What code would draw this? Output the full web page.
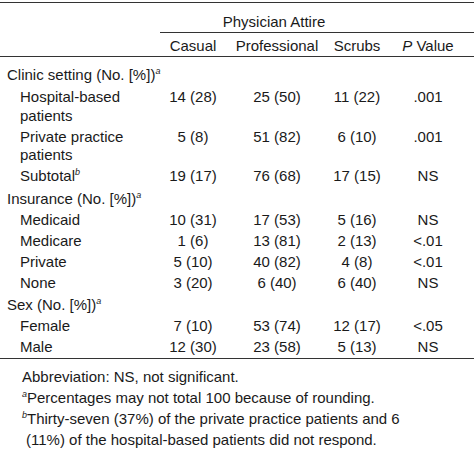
<!DOCTYPE html>
<html><head><meta charset="utf-8">
<script src="https://cdn.jsdelivr.net/npm/chart.js@4"></script>
<style>
body{margin:0;background:#fff;font-family:"Liberation Sans",Arial,sans-serif;color:#1a1a1a;font-size:15px;}
#t{position:relative;width:474px;height:467px;}
.c{position:absolute;white-space:nowrap;line-height:18px;}
.r{position:absolute;left:0;height:1px;background:#333;}
sup{font-size:9px;font-style:italic;vertical-align:6px;line-height:0}
</style></head><body><div id="t"></div>
<script>
const columns=["Casual","Professional","Scrubs","<i>P</i> Value"];
const rowLabels=["Clinic setting (No. [%])<sup>a</sup>","Hospital-based","patients","Private practice","patients","Subtotal<sup>b</sup>","Insurance (No. [%])<sup>a</sup>","Medicaid","Medicare","Private","None","Sex (No. [%])<sup>a</sup>","Female","Male"];
const indent=[0,1,1,1,1,1,0,1,1,1,1,0,1,1];
const casual=["","14 (28)","","5 (8)","","19 (17)","","10 (31)","1 (6)","5 (10)","3 (20)","","7 (10)","12 (30)"];
const professional=["","25 (50)","","51 (82)","","76 (68)","","17 (53)","13 (81)","40 (82)","6 (40)","","53 (74)","23 (58)"];
const scrubs=["","11 (22)","","6 (10)","","17 (15)","","5 (16)","2 (13)","4 (8)","6 (40)","","12 (17)","5 (13)"];
const pValue=["",".001","",".001","","NS","","NS","<.01","<.01","NS","","<.05","NS"];
const footnotes=["Abbreviation: NS, not significant.","<sup>a</sup>Percentages may not total 100 because of rounding.","<sup>b</sup>Thirty-seven (37%) of the private practice patients and 6","(11%) of the hospital-based patients did not respond."];
const rowY=[66,88,107,128,146,167,190,211,232,253,274,296,317,338];
const colX=[193,277,357,428];
const T=document.getElementById('t');
function txt(s,x,y,center){const d=document.createElement('div');d.className='c';d.innerHTML=s;d.style.top=y+'px';d.style.left=x+'px';if(center)d.style.transform='translateX(-50%)';T.appendChild(d);}
function rule(y,x,w){const d=document.createElement('div');d.className='r';d.style.top=y+'px';d.style.left=x+'px';d.style.width=w+'px';T.appendChild(d);}
rule(2,0,474);
txt("Physician Attire",274,13,true);
rule(32,160,315);
columns.forEach((c,i)=>txt(c,colX[i],37,true));
rule(56,0,474);
rowLabels.forEach((l,i)=>{txt(l,indent[i]?20:7,rowY[i]);
 [casual,professional,scrubs,pValue].forEach((a,j)=>{if(a[i])txt(a[i],colX[j],rowY[i],true);});});
rule(358,0,474);
footnotes.forEach((f,i)=>txt(f,i==3?26:22,368+i*21));
</script></body></html>
